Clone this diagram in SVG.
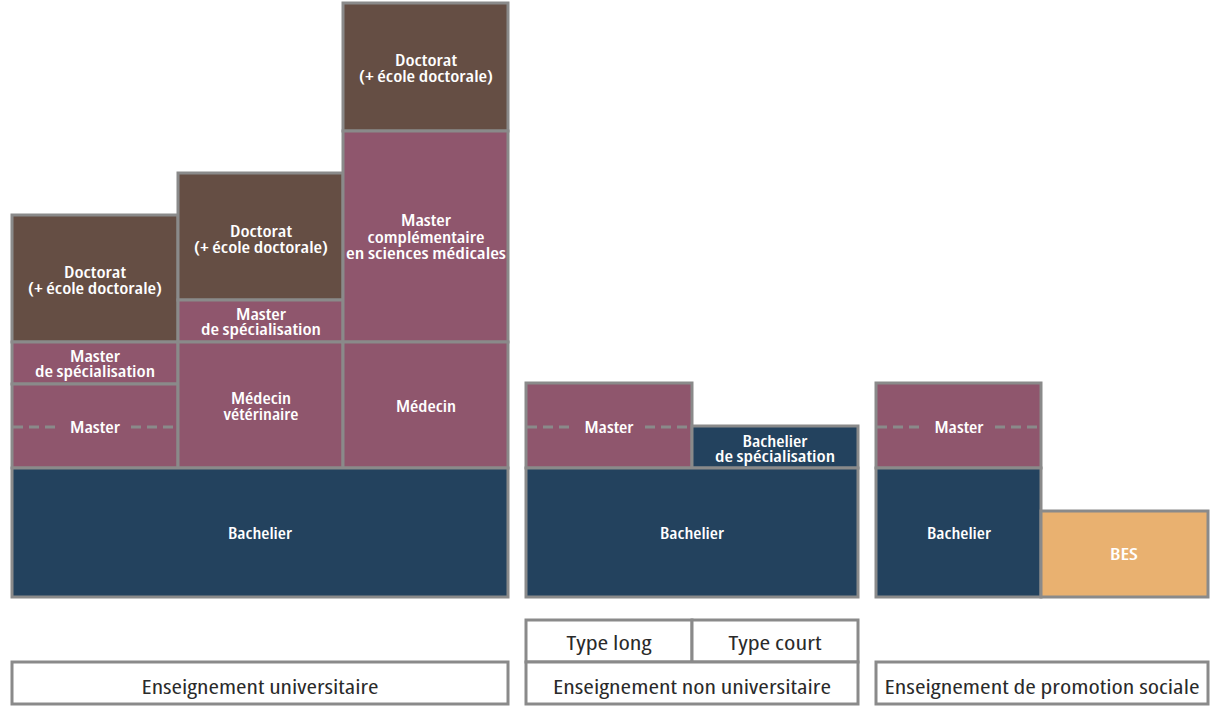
<svg xmlns="http://www.w3.org/2000/svg" width="1210" height="706" viewBox="0 0 1210 706">
<style>
.b{stroke:#8a8a8a;stroke-width:3}
.doc{fill:#654e44}
.mas{fill:#8f566d}
.bac{fill:#23425e}
.bes{fill:#e9b170}
.lab{fill:#ffffff}
.t{font-family:"Open Sans","Liberation Sans",sans-serif;font-weight:600;font-size:16px;fill:#ffffff;text-anchor:middle;font-stretch:condensed}
.bt{font-family:"Open Sans","Liberation Sans",sans-serif;font-weight:400;font-size:19px;fill:#2a2a2a;text-anchor:middle;font-stretch:condensed}
.d{stroke:#8a8a8a;stroke-width:3;stroke-dasharray:10 6;fill:none}
</style>
<rect width="1210" height="706" fill="#ffffff"/>
<g id="universitaire">
<g id="u-doc1"><rect class="b doc" x="12" y="215" width="166" height="127"/>
<text class="t" x="95" y="278" textLength="62" lengthAdjust="spacingAndGlyphs">Doctorat</text>
<text class="t" x="95" y="294" textLength="134" lengthAdjust="spacingAndGlyphs">(+ école doctorale)</text></g>
<g id="u-mspec1"><rect class="b mas" x="12" y="342" width="166" height="42"/>
<text class="t" x="95" y="362" textLength="50" lengthAdjust="spacingAndGlyphs">Master</text>
<text class="t" x="95" y="377" textLength="120" lengthAdjust="spacingAndGlyphs">de spécialisation</text></g>
<g id="u-master"><rect class="b mas" x="12" y="384" width="166" height="84"/>
<text class="t" x="95" y="433" textLength="50" lengthAdjust="spacingAndGlyphs">Master</text></g>
<g id="u-doc2"><rect class="b doc" x="178" y="173" width="165" height="127"/>
<text class="t" x="261" y="237" textLength="62" lengthAdjust="spacingAndGlyphs">Doctorat</text>
<text class="t" x="261" y="253" textLength="134" lengthAdjust="spacingAndGlyphs">(+ école doctorale)</text></g>
<g id="u-mspec2"><rect class="b mas" x="178" y="300" width="165" height="42"/>
<text class="t" x="261" y="320" textLength="50" lengthAdjust="spacingAndGlyphs">Master</text>
<text class="t" x="261" y="335" textLength="120" lengthAdjust="spacingAndGlyphs">de spécialisation</text></g>
<g id="u-vet"><rect class="b mas" x="178" y="342" width="165" height="126"/>
<text class="t" x="261" y="404" textLength="60" lengthAdjust="spacingAndGlyphs">Médecin</text>
<text class="t" x="261" y="420" textLength="75" lengthAdjust="spacingAndGlyphs">vétérinaire</text></g>
<g id="u-doc3"><rect class="b doc" x="343" y="3" width="165" height="128"/>
<text class="t" x="426" y="66" textLength="62" lengthAdjust="spacingAndGlyphs">Doctorat</text>
<text class="t" x="426" y="82" textLength="134" lengthAdjust="spacingAndGlyphs">(+ école doctorale)</text></g>
<g id="u-mcomp"><rect class="b mas" x="343" y="131" width="165" height="211"/>
<text class="t" x="426" y="226" textLength="50" lengthAdjust="spacingAndGlyphs">Master</text>
<text class="t" x="426" y="243" textLength="117" lengthAdjust="spacingAndGlyphs">complémentaire</text>
<text class="t" x="426" y="259" textLength="160" lengthAdjust="spacingAndGlyphs">en sciences médicales</text></g>
<g id="u-med"><rect class="b mas" x="343" y="342" width="165" height="126"/>
<text class="t" x="426" y="412" textLength="60" lengthAdjust="spacingAndGlyphs">Médecin</text></g>
<g id="u-bach"><rect class="b bac" x="12" y="468" width="496" height="129"/>
<text class="t" x="260" y="539" textLength="64" lengthAdjust="spacingAndGlyphs">Bachelier</text></g>
</g>
<g id="non-universitaire">
<g id="n-master"><rect class="b mas" x="526" y="383" width="166" height="85"/>
<text class="t" x="609" y="433" textLength="49" lengthAdjust="spacingAndGlyphs">Master</text></g>
<g id="n-bspec"><rect class="b bac" x="692" y="426" width="166" height="42"/>
<text class="t" x="775" y="447" textLength="65" lengthAdjust="spacingAndGlyphs">Bachelier</text>
<text class="t" x="775" y="462" textLength="120" lengthAdjust="spacingAndGlyphs">de spécialisation</text></g>
<g id="n-bach"><rect class="b bac" x="526" y="468" width="332" height="129"/>
<text class="t" x="692" y="539" textLength="64" lengthAdjust="spacingAndGlyphs">Bachelier</text></g>
</g>
<g id="promotion-sociale">
<g id="p-master"><rect class="b mas" x="876" y="383" width="165" height="85"/>
<text class="t" x="959" y="433" textLength="49" lengthAdjust="spacingAndGlyphs">Master</text></g>
<g id="p-bach"><rect class="b bac" x="876" y="468" width="165" height="129"/>
<text class="t" x="959" y="539" textLength="64" lengthAdjust="spacingAndGlyphs">Bachelier</text></g>
<g id="p-bes"><rect class="b bes" x="1041" y="511" width="167" height="86"/>
<text class="t" x="1124" y="560" textLength="28" lengthAdjust="spacingAndGlyphs">BES</text></g>
</g>
<g id="connectors">
<path class="d" d="M13 427H59M131 427H177"/>
<path class="d" d="M527 427H573M645 427H691"/>
<path class="d" d="M877 427H923M995 427H1040"/>
</g>
<g id="labels">
<g id="l-univ"><rect class="b lab" x="12" y="662" width="496" height="42"/>
<text class="bt" x="260" y="694" textLength="237" lengthAdjust="spacingAndGlyphs">Enseignement universitaire</text></g>
<g id="l-long"><rect class="b lab" x="526" y="620" width="166" height="42"/>
<text class="bt" x="609" y="650" textLength="85" lengthAdjust="spacingAndGlyphs">Type long</text></g>
<g id="l-court"><rect class="b lab" x="692" y="620" width="166" height="42"/>
<text class="bt" x="775" y="650" textLength="93" lengthAdjust="spacingAndGlyphs">Type court</text></g>
<g id="l-nonuniv"><rect class="b lab" x="526" y="662" width="332" height="42"/>
<text class="bt" x="692" y="694" textLength="278" lengthAdjust="spacingAndGlyphs">Enseignement non universitaire</text></g>
<g id="l-promo"><rect class="b lab" x="876" y="662" width="332" height="42"/>
<text class="bt" x="1042" y="694" textLength="315" lengthAdjust="spacingAndGlyphs">Enseignement de promotion sociale</text></g>
</g>
</svg>
